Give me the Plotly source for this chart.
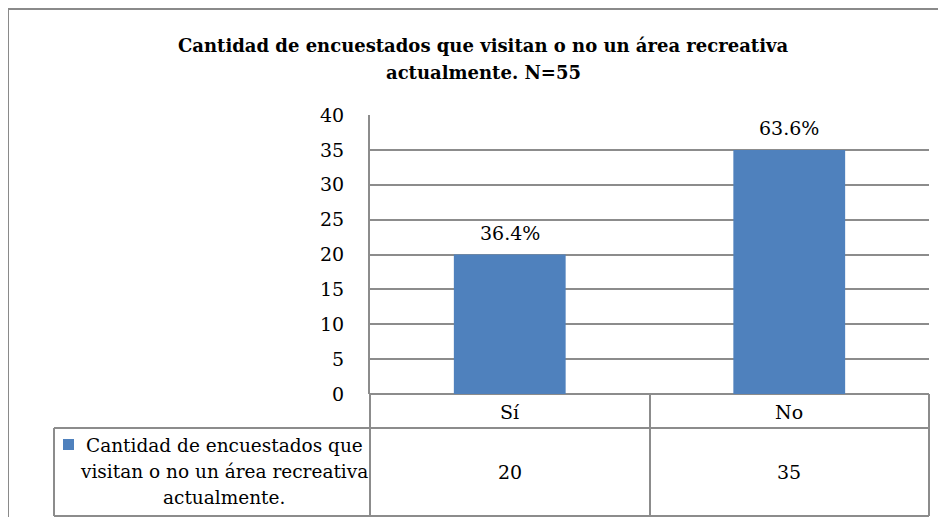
import plotly.graph_objects as go

categories = ["Sí", "No"]
values = [20, 35]
series_name = "Cantidad de encuestados que visitan o no un área recreativa actualmente."
legend_lines = ["Cantidad de encuestados que", "visitan o no un área recreativa", "actualmente."]
title_text = "Cantidad de encuestados que visitan o no un área recreativa<br>actualmente. N=55"
y_ticks = [0, 5, 10, 15, 20, 25, 30, 35, 40]

# page body margin is 8px; figure sized to fit the 946x525 window
OFF = 8
W, H = 946 - 2 * OFF, 525 - 2 * OFF
BAR = "#4F81BD"
GRID = "#8C8C8C"
FONT = "DejaVu Serif"

total = sum(values)
pct_text = [f"{v / total * 100:.1f}%" for v in values]


def px(x):
    return (x - OFF) / W


def py(y):
    return 1 - (y - OFF) / H


X0, X1 = 370, 929
Y_TOP, Y_ZERO = 115, 394
ROW1, ROW2 = 428, 516
TBL_L = 54
DIV = 650

fig = go.Figure()
fig.add_trace(go.Bar(
    x=categories, y=values, marker=dict(color=BAR, line=dict(width=0)),
    width=0.4, name=series_name, showlegend=False, hoverinfo="x+y",
))

shapes = []
line = dict(color=GRID, width=2)
frame = dict(color="#8A8A8A", width=2)
shapes.append(dict(type="line", xref="paper", yref="paper", x0=px(8), x1=px(946), y0=py(9), y1=py(9), line=frame))
shapes.append(dict(type="line", xref="paper", yref="paper", x0=px(8), x1=px(8), y0=py(9), y1=py(525), line=frame))
shapes.append(dict(type="line", xref="paper", yref="paper", x0=px(X0), x1=px(X0), y0=py(Y_ZERO), y1=py(ROW2), line=line))
shapes.append(dict(type="line", xref="paper", yref="paper", x0=px(DIV), x1=px(DIV), y0=py(Y_ZERO), y1=py(ROW2), line=line))
shapes.append(dict(type="line", xref="paper", yref="paper", x0=px(X1), x1=px(X1), y0=py(Y_ZERO), y1=py(ROW2), line=line))
shapes.append(dict(type="line", xref="paper", yref="paper", x0=px(TBL_L), x1=px(TBL_L), y0=py(ROW1), y1=py(ROW2), line=line))
shapes.append(dict(type="line", xref="paper", yref="paper", x0=px(TBL_L), x1=px(X1), y0=py(ROW1), y1=py(ROW1), line=line))
shapes.append(dict(type="line", xref="paper", yref="paper", x0=px(TBL_L), x1=px(X1), y0=py(ROW2), y1=py(ROW2), line=line))
shapes.append(dict(type="rect", xref="paper", yref="paper", x0=px(63), x1=px(74), y0=py(450), y1=py(439), fillcolor=BAR, line=dict(width=0)))

annotations = []
for c, v, p in zip(categories, values, pct_text):
    annotations.append(dict(x=c, xref="x", y=v, yref="y", text=p, showarrow=False, yshift=22,
                            font=dict(family=FONT, size=19, color="#000"), xanchor="center", yanchor="middle"))
    annotations.append(dict(x=c, xref="x", y=py((Y_ZERO + ROW1) / 2 + 1), yref="paper", text=c, showarrow=False,
                            font=dict(family=FONT, size=19, color="#000"), xanchor="center", yanchor="middle"))
    annotations.append(dict(x=c, xref="x", y=py((ROW1 + ROW2) / 2), yref="paper", text=str(v), showarrow=False,
                            font=dict(family=FONT, size=19, color="#000"), xanchor="center", yanchor="middle"))
for ln, yy in zip(legend_lines, [445, 471, 497]):
    annotations.append(dict(x=px(224), xref="paper", y=py(yy), yref="paper", text=ln, showarrow=False,
                            font=dict(family=FONT, size=18.5, color="#000"), xanchor="center", yanchor="middle"))
for ln, yy in zip(title_text.split("<br>"), [45, 72]):
    annotations.append(dict(x=px(483), xref="paper", y=py(yy), yref="paper", text=f"<b>{ln}</b>", showarrow=False,
                            font=dict(family=FONT, size=18, color="#000"), xanchor="center", yanchor="middle"))

fig.update_layout(
    width=W, height=H, margin=dict(l=0, r=0, t=0, b=0, pad=0, autoexpand=False),
    paper_bgcolor="white", plot_bgcolor="white",
    font=dict(family=FONT),
    xaxis=dict(domain=[px(X0), px(X1)], range=[-0.5, 1.5], showticklabels=False, showgrid=False,
               zeroline=False, showline=False, ticks="", automargin=False),
    yaxis=dict(domain=[py(Y_ZERO), py(Y_TOP)], range=[0, 40], tickvals=y_ticks, showgrid=True,
               gridcolor=GRID, gridwidth=2, zeroline=True, zerolinecolor=GRID, zerolinewidth=2,
               showline=True, linecolor=GRID, linewidth=2, ticks="", ticklabelstandoff=20, automargin=False,
               tickfont=dict(family=FONT, size=19, color="#000")),
    shapes=shapes, annotations=annotations, bargap=0.6, showlegend=False,
)

fig.write_html("out.html")
